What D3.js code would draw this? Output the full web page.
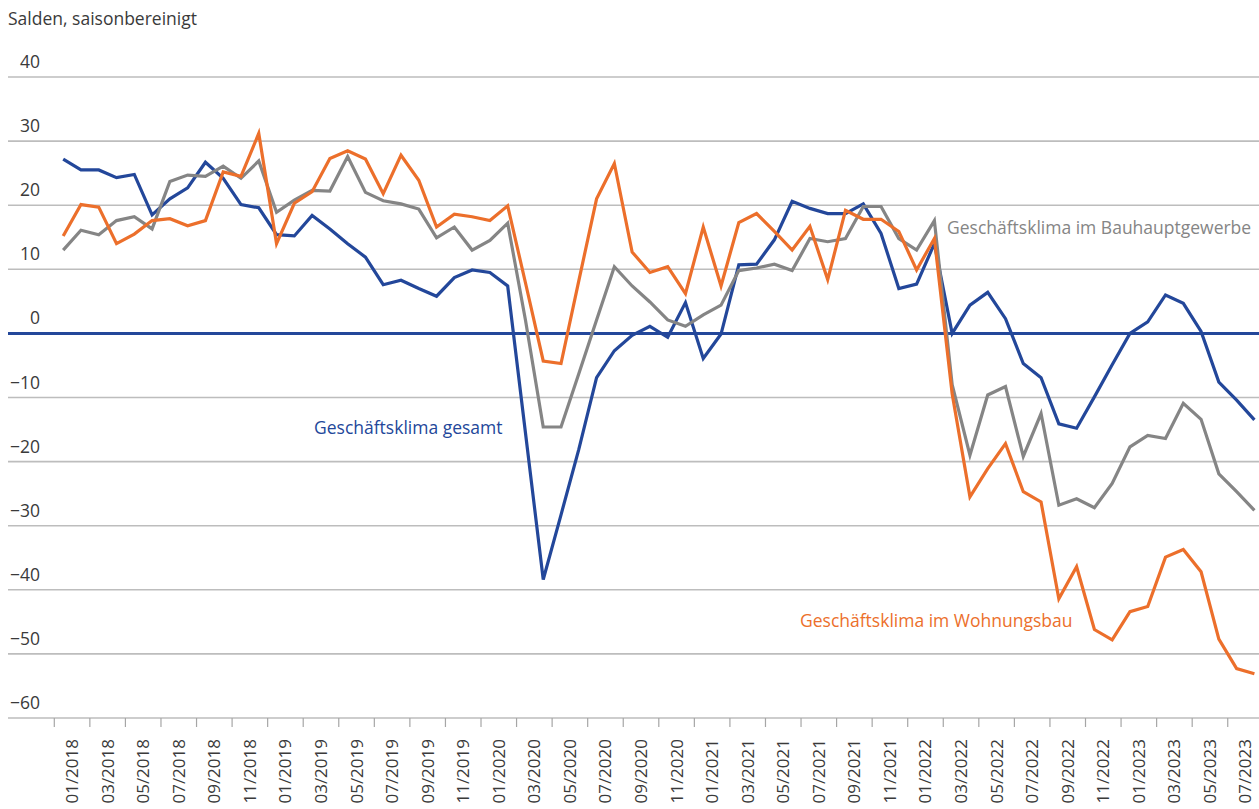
<!DOCTYPE html>
<html>
<head>
<meta charset="utf-8">
<script src="https://cdn.jsdelivr.net/npm/d3@7"></script>
<style>
  html, body { margin: 0; padding: 0; background: #ffffff; }
  svg { display: block; font-family: "Open Sans", "Noto Sans", sans-serif; }
</style>
</head>
<body>
<div id="chart"></div>
<script>
var w = 1259;
var h = 809;

var months = [
    "01/2018", "02/2018", "03/2018", "04/2018", "05/2018", "06/2018", "07/2018", "08/2018", "09/2018", "10/2018", "11/2018", "12/2018",
    "01/2019", "02/2019", "03/2019", "04/2019", "05/2019", "06/2019", "07/2019", "08/2019", "09/2019", "10/2019", "11/2019", "12/2019",
    "01/2020", "02/2020", "03/2020", "04/2020", "05/2020", "06/2020", "07/2020", "08/2020", "09/2020", "10/2020", "11/2020", "12/2020",
    "01/2021", "02/2021", "03/2021", "04/2021", "05/2021", "06/2021", "07/2021", "08/2021", "09/2021", "10/2021", "11/2021", "12/2021",
    "01/2022", "02/2022", "03/2022", "04/2022", "05/2022", "06/2022", "07/2022", "08/2022", "09/2022", "10/2022", "11/2022", "12/2022",
    "01/2023", "02/2023", "03/2023", "04/2023", "05/2023", "06/2023", "07/2023", "08/2023"
];

// Geschäftsklima gesamt
var gesamt = [
    27.2, 25.5, 25.5, 24.3, 24.8, 18.5, 21.0, 22.7, 26.7, 24.2, 20.1, 19.6,
    15.4, 15.2, 18.4, 16.3, 14.0, 11.9, 7.6, 8.3, 7.0, 5.8, 8.7, 9.9,
    9.5, 7.4, -15.5, -38.4, -28.3, -18.1, -6.9, -2.7, -0.3, 1.1, -0.6, 4.8,
    -3.9, -0.1, 10.7, 10.8, 14.6, 20.6, 19.5, 18.7, 18.7, 20.2, 15.6, 7.0,
    7.7, 14.0, 0.0, 4.4, 6.4, 2.3, -4.7, -6.9, -14.1, -14.8, -9.9, -4.9,
    0.0, 1.8, 6.0, 4.7, 0.3, -7.6, -10.4, -13.5
];

// Geschäftsklima im Wohnungsbau
var wohnungsbau = [
    15.2, 20.1, 19.7, 14.0, 15.5, 17.6, 17.9, 16.8, 17.6, 25.2, 24.5, 31.2,
    14.0, 20.3, 22.1, 27.3, 28.5, 27.2, 21.8, 27.8, 23.9, 16.6, 18.6, 18.2,
    17.6, 19.9, 7.9, -4.3, -4.7, 8.2, 21.0, 26.5, 12.7, 9.5, 10.4, 6.2,
    16.6, 7.4, 17.3, 18.7, 15.9, 13.0, 16.7, 8.4, 19.2, 17.8, 17.8, 15.9,
    9.9, 14.8, -9.4, -25.5, -21.1, -17.2, -24.7, -26.3, -41.4, -36.4, -46.2, -47.8,
    -43.4, -42.6, -34.9, -33.7, -37.2, -47.7, -52.3, -53.1
];

// Geschäftsklima im Bauhauptgewerbe
var bauhaupt = [
    13.0, 16.1, 15.4, 17.6, 18.2, 16.3, 23.7, 24.7, 24.5, 26.1, 24.2, 26.9,
    18.9, 20.8, 22.3, 22.2, 27.6, 22.0, 20.7, 20.2, 19.4, 14.9, 16.6, 13.0,
    14.5, 17.2, 2.1, -14.6, -14.6, -6.3, 2.1, 10.4, 7.4, 4.9, 2.1, 1.1,
    2.9, 4.4, 9.8, 10.2, 10.8, 9.8, 14.8, 14.3, 14.8, 19.8, 19.8, 14.8,
    13.0, 17.6, -8.0, -19.0, -9.6, -8.3, -19.2, -12.5, -26.8, -25.8, -27.2, -23.4,
    -17.7, -15.9, -16.4, -10.9, -13.4, -21.9, -24.7, -27.6
];

var yTicks = [40, 30, 20, 10, 0, -10, -20, -30, -40, -50, -60];

var blue = "#23479a";
var orange = "#ec6f2b";
var grey = "#858585";

var svg = d3.select("#chart").append("svg")
    .attr("width", w)
    .attr("height", h);

var x = d3.scaleBand()
    .domain(months)
    .range([54.3, 1263.3])
    .padding(0);

var y = d3.scaleLinear()
    .domain([-60, 40])
    .range([718, 77]);

function cx(d) { return x(d) + x.bandwidth() / 2; }
function fmt(v) { return v < 0 ? "\u2212" + Math.abs(v) : String(v); }

svg.append("text")
    .text("Salden, saisonbereinigt")
    .attr("x", 8)
    .attr("y", 25)
    .attr("font-size", 17.5)
    .attr("fill", "#3a3a3a");

// gridlines + y labels
svg.selectAll("line.grid")
    .data(yTicks.filter(function (d) { return d !== 0; }))
    .enter()
    .append("line")
    .attr("class", "grid")
    .attr("x1", 8)
    .attr("x2", w)
    .attr("y1", function (d) { return y(d); })
    .attr("y2", function (d) { return y(d); })
    .attr("stroke", "#bdbdbd")
    .attr("stroke-width", 1.6);

svg.selectAll("text.ylab")
    .data(yTicks)
    .enter()
    .append("text")
    .attr("class", "ylab")
    .text(function (d) { return fmt(d); })
    .attr("x", 40)
    .attr("y", function (d) { return y(d) - 9; })
    .attr("text-anchor", "end")
    .attr("font-size", 17.5)
    .attr("fill", "#3a3a3a");

// x ticks every two months
var evenMonths = months.filter(function (d, i) { return i % 2 === 0; });

svg.selectAll("line.xtick")
    .data(evenMonths)
    .enter()
    .append("line")
    .attr("class", "xtick")
    .attr("x1", function (d) { return x(d); })
    .attr("x2", function (d) { return x(d); })
    .attr("y1", y(-60))
    .attr("y2", y(-60) + 9)
    .attr("stroke", "#a6a6a6")
    .attr("stroke-width", 1.2);

svg.selectAll("text.xlab")
    .data(evenMonths)
    .enter()
    .append("text")
    .attr("class", "xlab")
    .text(function (d) { return d; })
    .attr("transform", function (d) {
        return "translate(" + (x(d) + x.bandwidth()) + "," + (y(-60) + 21) + ") rotate(-90)";
    })
    .attr("text-anchor", "end")
    .attr("dy", "0.35em")
    .attr("font-size", 17)
    .attr("fill", "#3a3a3a");

// zero line
svg.append("line")
    .attr("x1", 8)
    .attr("x2", w)
    .attr("y1", y(0))
    .attr("y2", y(0))
    .attr("stroke", blue)
    .attr("stroke-width", 3);

var line = d3.line()
    .x(function (d, i) { return cx(months[i]); })
    .y(function (d) { return y(d); });

var series = [
    { values: gesamt, color: blue },
    { values: bauhaupt, color: grey },
    { values: wohnungsbau, color: orange }
];

svg.selectAll("path.series")
    .data(series)
    .enter()
    .append("path")
    .attr("class", "series")
    .attr("d", function (d) { return line(d.values); })
    .attr("fill", "none")
    .attr("stroke", function (d) { return d.color; })
    .attr("stroke-width", 3.2)
    .attr("stroke-linejoin", "miter");

// series labels
svg.append("text")
    .text("Geschäftsklima gesamt")
    .attr("x", 314)
    .attr("y", 434)
    .attr("font-size", 17.5)
    .attr("fill", blue);

svg.append("text")
    .text("Geschäftsklima im Bauhauptgewerbe")
    .attr("x", 947)
    .attr("y", 234)
    .attr("font-size", 17.5)
    .attr("fill", grey);

svg.append("text")
    .text("Geschäftsklima im Wohnungsbau")
    .attr("x", 800)
    .attr("y", 627)
    .attr("font-size", 17.5)
    .attr("fill", orange);
</script>
</body>
</html>
